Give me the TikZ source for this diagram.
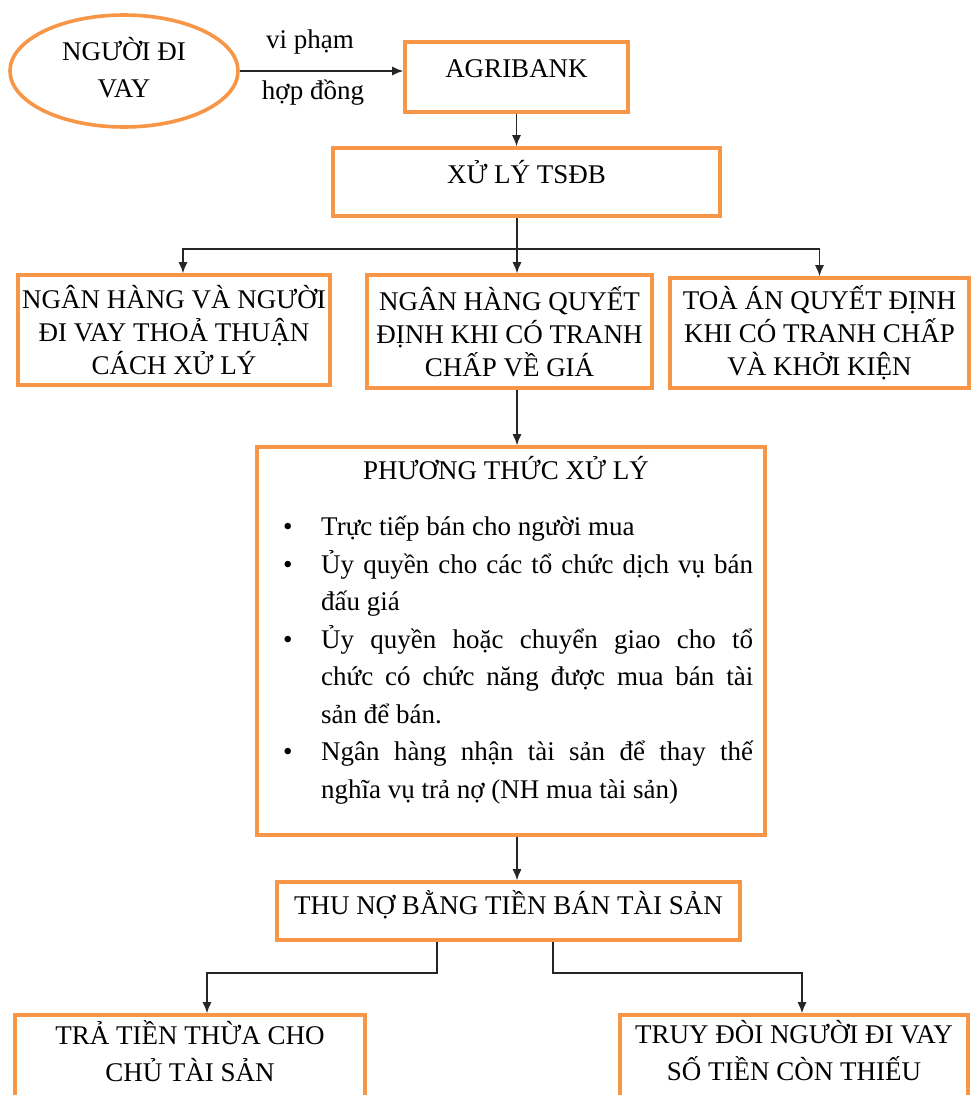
\documentclass[tikz,border=0pt]{standalone}
\usepackage{fontspec}
\setmainfont{Liberation Serif}
\usetikzlibrary{arrows.meta,shapes.geometric,calc}
\definecolor{orng}{HTML}{F79646}
\begin{document}
\begin{tikzpicture}[x=1pt,y=-1pt,
  box/.style={draw=orng,line width=3.6pt,inner sep=0pt},
  txt/.style={font=\fontsize{27}{33}\selectfont},
  arr/.style={draw=black!85,line width=1.3pt,-{Latex[length=11pt,width=9pt]}},
  ln/.style={draw=black!85,line width=1.3pt}]
\useasboundingbox (0,0) rectangle (971,1095);
\clip (0,0) rectangle (971,1095);
\fill[white] (0,0) rectangle (971,1095);

% top row
\node[box,ellipse,minimum width=228pt,minimum height=112pt] (ell) at (124,71) {};
\node[align=center,inner sep=0pt,font=\fontsize{27}{37}\selectfont] (ellt) at (124,68) {NGƯỜI ĐI\\VAY};
\node[box,minimum width=223pt,txt,text height=35pt,text depth=35pt] (agri) at (516.5,77) {AGRIBANK};
\node[txt,inner sep=0pt] (l1) at (310,42) {vi phạm};
\node[txt,inner sep=0pt] (l2) at (313,93) {hợp đồng};

\node[box,minimum width=387pt,txt,text height=35pt,text depth=33pt] (xuly) at (526.5,182) {XỬ LÝ TSĐB};

% three cases
\node[box,minimum width=312pt,minimum height=110pt,txt,align=center] (b1) at (174,330)
  {NGÂN HÀNG VÀ NGƯỜI\\ĐI VAY THOẢ THUẬN\\CÁCH XỬ LÝ};
\node[box,minimum width=285pt,minimum height=113pt,txt,align=center] (b2) at (509.5,331.5)
  {NGÂN HÀNG QUYẾT\\ĐỊNH KHI CÓ TRANH\\CHẤP VỀ GIÁ};
\node[box,minimum width=299pt,minimum height=110pt,txt,align=center] (b3) at (819.5,333)
  {TOÀ ÁN QUYẾT ĐỊNH\\KHI CÓ TRANH CHẤP\\VÀ KHỞI KIỆN};

% methods
\node[box,minimum width=508pt,minimum height=388pt] (pt) at (511,641) {};
\node[txt,inner sep=0pt,anchor=base] (ptt) at (506,479) {PHƯƠNG THỨC XỬ LÝ};
\node[inner sep=0pt,anchor=north west,text width=470pt,align=justify,
  font=\fontsize{27}{37.5}\selectfont] (ptl) at (283,516) {%
  \hangindent=38pt\hangafter=1\noindent\makebox[38pt][l]{•}Trực tiếp bán cho người mua\par
  \hangindent=38pt\hangafter=1\noindent\makebox[38pt][l]{•}Ủy quyền cho các tổ chức dịch vụ bán\linebreak đấu giá\par
  \hangindent=38pt\hangafter=1\noindent\makebox[38pt][l]{•}Ủy quyền hoặc chuyển giao cho tổ\linebreak chức có chức năng được mua bán tài\linebreak sản để bán.\par
  \hangindent=38pt\hangafter=1\noindent\makebox[38pt][l]{•}Ngân hàng nhận tài sản để thay thế\linebreak nghĩa vụ trả nợ (NH mua tài sản)\par};

\node[box,minimum width=463pt,txt,text height=32pt,text depth=26pt] (thu) at (508.5,911) {THU NỢ BẰNG TIỀN BÁN TÀI SẢN};

% bottom
\node[box,minimum width=350pt,minimum height=100pt] (bl) at (190,1065) {};
\node[align=center,anchor=north,inner sep=0pt,font=\fontsize{27}{37}\selectfont] (blt) at (190,1020) {TRẢ TIỀN THỪA CHO\\CHỦ TÀI SẢN};
\node[box,minimum width=348pt,minimum height=100pt] (br) at (794,1065) {};
\node[align=center,anchor=north,inner sep=0pt,font=\fontsize{27}{37}\selectfont] (brt) at (794,1020) {TRUY ĐÒI NGƯỜI ĐI VAY\\SỐ TIỀN CÒN THIẾU};

% connectors
\draw[arr] (ell.east) -- (ell.east -| agri.west);
\draw[arr] (agri.south) -- (agri.south |- xuly.north);
\coordinate (j1) at (517,249);
\draw[ln] (xuly.south -| j1) -- (j1);
\draw[arr] (j1) -| ([xshift=9pt]b1.north);
\draw[arr] (j1) -- (j1 |- b2.north);
\draw[arr] (j1) -| (b3.north);
\draw[arr] (b2.south -| j1) -- (pt.north -| j1);
\draw[arr] (pt.south -| j1) -- (thu.north -| j1);
\coordinate (j2) at (437,973);
\coordinate (j3) at (553,973);
\draw[arr] (thu.south -| j2) -- (j2) -| ([xshift=17pt]bl.north);
\draw[arr] (thu.south -| j3) -- (j3) -| ([xshift=8pt]br.north);
\end{tikzpicture}
\end{document}
